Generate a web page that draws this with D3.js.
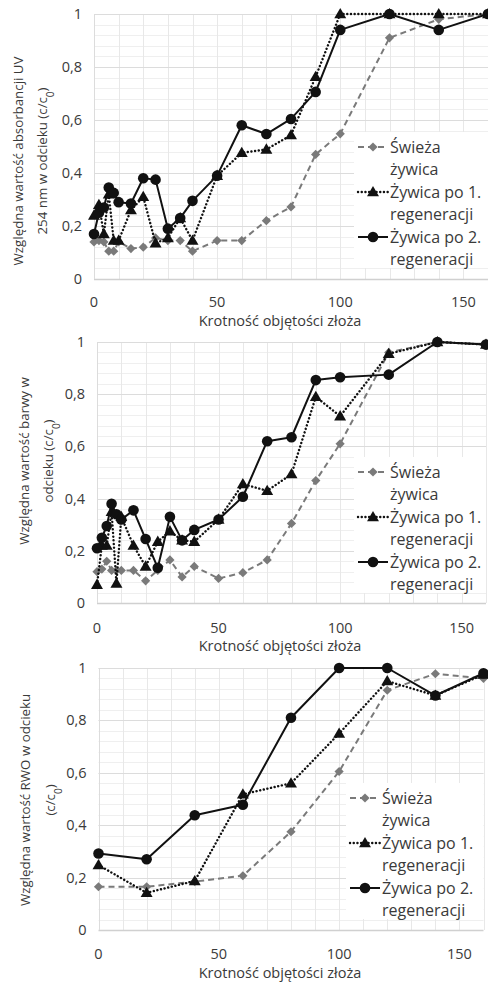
<!DOCTYPE html>
<html lang="pl">
<head>
<meta charset="UTF-8">
<title>Krotność objętości złoża</title>
<script src="https://d3js.org/d3.v7.min.js"></script>
<style>
  body { margin: 0; background: #fff; }
  svg { display: block; font-family: "Open Sans", Arial, sans-serif; }
  .tick-label { font-size: 14.5px; fill: #3a3a3a; }
  .axis-title { font-size: 14.5px; fill: #3a3a3a; }
  .y-title { font-size: 13.3px; fill: #3a3a3a; }
  .legend-text { font-size: 16px; fill: #3a3a3a; }
</style>
</head>
<body>
<script>
// x positions (bed volumes) for the first two panels and the third
const xDense = [0, 2, 4, 6, 8, 10, 15, 20, 25, 30, 35, 40, 50, 60, 70, 80, 90, 100, 120, 140, 160];
const xSparse = [0, 20, 40, 60, 80, 100, 120, 140, 160];

// panel 1: UV 254 nm absorbance
const uvFresh = [0.14, 0.145, 0.14, 0.105, 0.105, 0.14, 0.115, 0.12, 0.155, 0.145, 0.145, 0.105, 0.145, 0.145, 0.22, 0.272, 0.47, 0.548, 0.91, 0.98, 1.0];
const uvRegen1 = [0.24, 0.28, 0.17, 0.32, 0.145, 0.145, 0.26, 0.31, 0.135, 0.155, 0.23, 0.145, 0.39, 0.476, 0.489, 0.543, 0.763, 1.0, 1.0, 1.0, 1.0];
const uvRegen2 = [0.17, 0.25, 0.27, 0.345, 0.325, 0.29, 0.285, 0.38, 0.375, 0.19, 0.23, 0.295, 0.39, 0.58, 0.547, 0.604, 0.706, 0.94, 1.0, 0.94, 1.0];

// panel 2: colour
const colFresh = [0.12, 0.13, 0.16, 0.125, 0.125, 0.125, 0.125, 0.085, 0.125, 0.165, 0.10, 0.14, 0.094, 0.116, 0.165, 0.305, 0.469, 0.61, 0.96, 1.0, 0.99];
const colRegen1 = [0.07, 0.22, 0.22, 0.35, 0.075, 0.33, 0.22, 0.14, 0.235, 0.275, 0.24, 0.235, 0.32, 0.456, 0.43, 0.494, 0.79, 0.716, 0.955, 1.0, 0.99];
const colRegen2 = [0.21, 0.25, 0.295, 0.38, 0.34, 0.32, 0.355, 0.245, 0.135, 0.33, 0.24, 0.28, 0.32, 0.407, 0.62, 0.635, 0.854, 0.865, 0.875, 1.0, 0.99];

// panel 3: RWO (organic matter)
const rwoFresh = [0.165, 0.165, 0.185, 0.207, 0.375, 0.605, 0.915, 0.978, 0.96];
const rwoRegen1 = [0.248, 0.142, 0.187, 0.518, 0.56, 0.75, 0.95, 0.895, 0.975];
const rwoRegen2 = [0.292, 0.27, 0.438, 0.478, 0.81, 1.0, 1.0, 0.895, 0.98];

const xTicks = [0, 50, 100, 150];
const yTicks = [0, 0.2, 0.4, 0.6, 0.8, 1];
const legendLabels = [["Świeża", "żywica"], ["Żywica po 1.", "regeneracji"], ["Żywica po 2.", "regeneracji"]];
const xTitle = "Krotność objętości złoża";

const width = 488, height = 982;
const svg = d3.select("body").append("svg")
    .attr("width", width)
    .attr("height", height);

const styles = [
    { color: "#7a7a7a", dash: "6,4", cap: "butt", marker: "diamond" },
    { color: "#111", dash: "0.1,3.6", cap: "round", marker: "triangle" },
    { color: "#111", dash: null, cap: "butt", marker: "circle" }
];

function drawMarker(g, type, x, y, color) {
    if (type === "circle") {
        g.append("circle").attr("cx", x).attr("cy", y).attr("r", 5.3).attr("fill", color);
    } else if (type === "triangle") {
        g.append("path")
            .attr("d", d3.symbol(d3.symbolTriangle, 62)())
            .attr("transform", `translate(${x},${y + 0.8})`)
            .attr("fill", color);
    } else {
        g.append("path")
            .attr("d", d3.symbol(d3.symbolDiamond2, 54)())
            .attr("transform", `translate(${x},${y})`)
            .attr("fill", color);
    }
}

function drawPanel(p) {
    const x = d3.scaleLinear().domain([0, 160]).range([p.x0, p.x1]);
    const y = d3.scaleLinear().domain([0, 1]).range([p.y0, p.y1]);
    const g = svg.append("g");

    // minor grid
    g.selectAll(".hminor").data(d3.range(0.04, 1.001, 0.04)).enter()
        .append("line")
        .attr("x1", p.x0).attr("x2", p.x1)
        .attr("y1", d => Math.round(y(d)) + 0.5).attr("y2", d => Math.round(y(d)) + 0.5)
        .attr("stroke", "#efefef");
    g.selectAll(".vminor").data(d3.range(10, 161, 10)).enter()
        .append("line")
        .attr("x1", d => Math.round(x(d)) + 0.5).attr("x2", d => Math.round(x(d)) + 0.5)
        .attr("y1", p.y0).attr("y2", p.y1)
        .attr("stroke", "#e8e8e8");
    // major grid
    g.selectAll(".hmajor").data(yTicks.slice(1)).enter()
        .append("line")
        .attr("x1", p.x0).attr("x2", p.x1)
        .attr("y1", d => Math.round(y(d)) + 0.5).attr("y2", d => Math.round(y(d)) + 0.5)
        .attr("stroke", "#dcdcdc");
    // axis lines
    g.append("line")
        .attr("x1", p.x0).attr("x2", p.x1)
        .attr("y1", Math.round(y(0)) + 0.5).attr("y2", Math.round(y(0)) + 0.5)
        .attr("stroke", "#d0d0d0").attr("stroke-width", 1.5);
    g.append("line")
        .attr("x1", Math.round(x(0)) + 0.5).attr("x2", Math.round(x(0)) + 0.5)
        .attr("y1", p.y0).attr("y2", p.y1)
        .attr("stroke", "#dcdcdc");

    // tick labels
    g.selectAll(".ylab").data(yTicks).enter()
        .append("text")
        .attr("class", "tick-label")
        .attr("x", p.x0 - 12)
        .attr("y", d => y(d) + 5)
        .attr("text-anchor", "end")
        .text(d => d === 0 || d === 1 ? String(d) : d3.format(".1f")(d).replace(".", ","));
    g.selectAll(".xlab").data(xTicks).enter()
        .append("text")
        .attr("class", "tick-label")
        .attr("x", d => x(d))
        .attr("y", p.xLabelY)
        .attr("text-anchor", "middle")
        .text(d => d);

    // axis titles
    g.append("text")
        .attr("class", "axis-title")
        .attr("x", 280)
        .attr("y", p.xTitleY)
        .attr("text-anchor", "middle")
        .text(xTitle);

    p.yTitle.forEach((line, i) => {
        const t = g.append("text")
            .attr("class", "y-title")
            .attr("text-anchor", "middle")
            .attr("transform", `translate(${p.yTitleX[i]},${p.yTitleCy}) rotate(-90)`);
        if (line.indexOf("(c/c0)") >= 0) {
            const before = line.replace("(c/c0)", "");
            t.append("tspan").text(before + "(c/c");
            t.append("tspan").attr("baseline-shift", "sub").attr("font-size", "10px").text("0");
            t.append("tspan").text(")");
        } else {
            t.text(line);
        }
    });

    // legend background
    g.append("rect")
        .attr("x", p.legX - 4).attr("y", p.legY - 15)
        .attr("width", p.x1 - p.legX + 4).attr("height", 136)
        .attr("fill", "#fff");

    // series
    p.series.forEach((vals, si) => {
        const st = styles[si];
        const pts = vals.map((v, i) => [p.xs[i], v]);
        const line = d3.line().x(d => x(d[0])).y(d => y(d[1]));
        g.append("path")
            .attr("d", line(pts))
            .attr("fill", "none")
            .attr("stroke", st.color)
            .attr("stroke-width", si === 1 ? 2.4 : 2)
            .attr("stroke-dasharray", st.dash)
            .attr("stroke-linecap", st.cap)
            .attr("stroke-linejoin", "round");
        pts.forEach(d => drawMarker(g, st.marker, x(d[0]), y(d[1]), st.color));
    });

    // legend
    legendLabels.forEach((lab, i) => {
        const st = styles[i];
        const ly = p.legY + i * 45;
        g.append("line")
            .attr("x1", p.legX).attr("x2", p.legX + 30)
            .attr("y1", ly).attr("y2", ly)
            .attr("stroke", st.color).attr("stroke-width", i === 1 ? 2.4 : 2)
            .attr("stroke-dasharray", st.dash)
            .attr("stroke-linecap", st.cap);
        drawMarker(g, st.marker, p.legX + 15, ly, st.color);
        lab.forEach((s, j) => {
            g.append("text")
                .attr("class", "legend-text")
                .attr("x", p.legX + 32)
                .attr("y", ly + 6 + j * 22)
                .text(s);
        });
    });
}

drawPanel({
    x0: 94, x1: 488, y0: 279, y1: 14,
    xLabelY: 307, xTitleY: 326,
    yTitle: ["Względna wartość absorbancji UV", "254 nm w odcieku (c/c0)"],
    yTitleX: [23, 47], yTitleCy: 161,
    legX: 358, legY: 147,
    xs: xDense, series: [uvFresh, uvRegen1, uvRegen2]
});

drawPanel({
    x0: 97, x1: 486, y0: 603, y1: 342,
    xLabelY: 633, xTitleY: 651,
    yTitle: ["Względna wartość barwy w", "odcieku (c/c0)"],
    yTitleX: [29, 53], yTitleCy: 461,
    legX: 358, legY: 472,
    xs: xDense, series: [colFresh, colRegen1, colRegen2]
});

drawPanel({
    x0: 98.5, x1: 483.5, y0: 930, y1: 668,
    xLabelY: 959, xTitleY: 978,
    yTitle: ["Względna wartość RWO w odcieku", "(c/c0)"],
    yTitleX: [30, 55], yTitleCy: 800,
    legX: 350, legY: 798,
    xs: xSparse, series: [rwoFresh, rwoRegen1, rwoRegen2]
});
</script>
</body>
</html>
